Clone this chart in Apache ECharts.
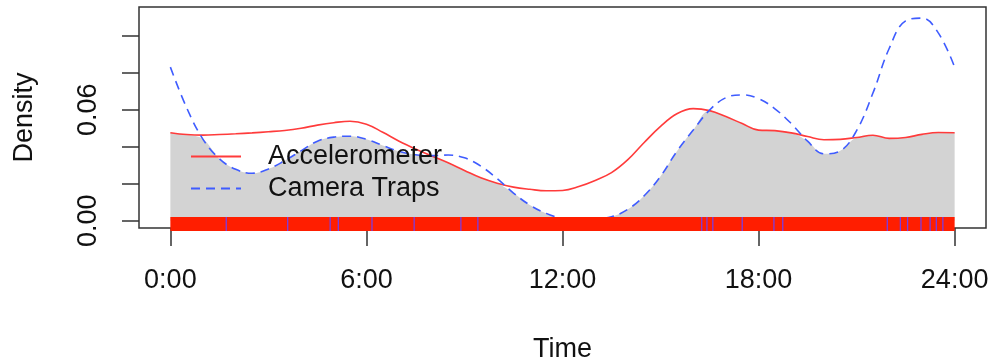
<!DOCTYPE html>
<html>
<head>
<meta charset="utf-8">
<script src="https://cdn.jsdelivr.net/npm/echarts@6/dist/echarts.min.js"></script>
<style>
  html, body { margin: 0; padding: 0; background: #ffffff; }
  #chart { width: 993px; height: 364px; }
</style>
</head>
<body>
<div id="chart"></div>
<script>
// Time of day (hours) at which both activity densities are given
const hours = [
  0, 0.5, 1, 1.5, 2, 2.5, 3, 3.5, 4, 4.5, 5, 5.5, 6, 6.5, 7, 7.5,
  8, 8.5, 9, 9.5, 10, 10.5, 11, 11.5, 12, 12.5, 13, 13.5, 14, 14.5, 15, 15.5,
  16, 16.5, 17, 17.5, 18, 18.5, 19, 19.5, 20, 20.5, 21, 21.5, 22, 22.5, 23, 23.5, 24
];

// Kernel density of activity, accelerometer records
const accelerometer = [
  0.0476, 0.0466, 0.0463, 0.0466, 0.0470, 0.0475, 0.0481, 0.0488, 0.0500, 0.0517,
  0.0530, 0.0538, 0.0522, 0.0478, 0.0430, 0.0388, 0.0350, 0.0313, 0.0272, 0.0232,
  0.0203, 0.0182, 0.0170, 0.0162, 0.0164, 0.0185, 0.0218, 0.0260, 0.0330, 0.0423,
  0.0510, 0.0578, 0.0606, 0.0595, 0.0563, 0.0525, 0.0490, 0.0487, 0.0475, 0.0455,
  0.0438, 0.0440, 0.0450, 0.0462, 0.0445, 0.0450, 0.0467, 0.0477, 0.0476
];

// Kernel density of activity, camera trap records
const cameraTraps = [
  0.0830, 0.0610, 0.0440, 0.0335, 0.0278, 0.0257, 0.0280, 0.0325, 0.0378, 0.0430,
  0.0452, 0.0457, 0.0440, 0.0407, 0.0375, 0.0357, 0.0352, 0.0355, 0.0340, 0.0295,
  0.0228, 0.0150, 0.0085, 0.0040, 0.0012, 0.0004, 0.0010, 0.0022, 0.0062, 0.0135,
  0.0240, 0.0375, 0.0490, 0.0598, 0.0665, 0.0680, 0.0660, 0.0605, 0.0525, 0.0430,
  0.0362, 0.0378, 0.0487, 0.0690, 0.0932, 0.1080, 0.1095, 0.1015, 0.0830
];

// Individual camera trap detections (hours), drawn as a rug
const cameraTimes = [
  1.71, 3.59, 4.89, 5.14, 6.17, 7.46, 8.89, 9.41,
  16.26, 16.42, 16.60, 17.50, 18.47, 18.74,
  21.94, 22.34, 22.56, 22.97, 23.25, 23.44, 23.64
];

// Accelerometer records cover the whole day densely
const accelSpan = [0, 24];

const xTicks = [0, 6, 12, 18, 24];
const xTickLabels = ['0:00', '6:00', '12:00', '18:00', '24:00'];
const yTicks = [0, 0.02, 0.04, 0.06, 0.08, 0.10];
const yLabelled = [0, 0.06];

const FONT = 'Liberation Sans, Arial, Helvetica, sans-serif';
const RED = '#ff3b3b';
const BLUE = '#3f5cff';

const accelData = hours.map((h, i) => [h, accelerometer[i]]);
const cameraData = hours.map((h, i) => [h, cameraTraps[i]]);
const overlapData = hours.map((h, i) => [h, Math.min(accelerometer[i], cameraTraps[i])]);

const chart = echarts.init(document.getElementById('chart'), null, { renderer: 'canvas' });

chart.setOption({
  animation: false,
  backgroundColor: '#ffffff',
  textStyle: { fontFamily: FONT },
  grid: {
    left: 139, top: 7, width: 847, height: 221,
    containLabel: false, outerBoundsMode: 'none',
    show: true, borderColor: '#333333', borderWidth: 1.5, backgroundColor: 'transparent'
  },
  legend: {
    orient: 'vertical',
    left: 190, top: 143, padding: 0,
    itemWidth: 50, itemHeight: 14, itemGap: 5,
    data: ['Accelerometer', 'Camera Traps'],
    itemStyle: { opacity: 0 },
    textStyle: { fontFamily: FONT, fontSize: 27, color: '#111111', padding: [0, 0, 0, 22] },
    selectedMode: false
  },
  xAxis: {
    type: 'value',
    min: -0.96, max: 24.96,
    splitLine: { show: false },
    axisLine: { show: false, onZero: false },
    axisTick: {
      show: true, inside: false, length: 18, customValues: xTicks,
      lineStyle: { color: '#333333', width: 1.5 }
    },
    axisLabel: {
      show: true, customValues: xTicks, margin: 39,
      fontFamily: FONT, fontSize: 27, color: '#111111',
      formatter: v => xTickLabels[xTicks.indexOf(v)]
    },
    name: 'Time', nameLocation: 'middle', nameGap: 108,
    nameTextStyle: { fontFamily: FONT, fontSize: 27, color: '#111111' }
  },
  yAxis: {
    type: 'value',
    min: -0.0039, max: 0.1155,
    splitLine: { show: false },
    axisLine: { show: false, onZero: false },
    axisTick: {
      show: true, inside: false, length: 17, customValues: yTicks,
      lineStyle: { color: '#333333', width: 1.5 }
    },
    axisLabel: {
      show: true, customValues: yLabelled, rotate: 90, margin: 37,
      fontFamily: FONT, fontSize: 27, color: '#111111',
      formatter: v => v.toFixed(2)
    },
    name: 'Density', nameLocation: 'middle', nameGap: 101, nameRotate: 90,
    nameTextStyle: { fontFamily: FONT, fontSize: 27, color: '#111111' }
  },
  series: [
    {
      name: 'overlap', type: 'line', data: overlapData, smooth: 0.4,
      showSymbol: false, symbol: 'none', silent: true,
      lineStyle: { width: 0, opacity: 0 },
      areaStyle: { color: '#d3d3d3', opacity: 1, origin: 0 },
      z: 1
    },
    {
      name: 'Accelerometer', type: 'line', data: accelData, smooth: 0.4,
      showSymbol: false, symbol: 'none',
      lineStyle: { color: RED, width: 1.6 },
      itemStyle: { color: RED },
      z: 3
    },
    {
      name: 'Camera Traps', type: 'line', data: cameraData, smooth: 0.4,
      showSymbol: false, symbol: 'none',
      lineStyle: { color: BLUE, width: 1.6, type: [9, 6] },
      itemStyle: { color: BLUE },
      z: 3
    },
    {
      name: 'accelerometer rug', type: 'custom', clip: false, silent: true, z: 5,
      data: [accelSpan],
      renderItem: (params, api) => {
        const a = api.coord([api.value(0), 0]);
        const b = api.coord([api.value(1), 0]);
        return {
          type: 'rect',
          shape: { x: a[0], y: a[1] - 3.7, width: b[0] - a[0], height: 14 },
          style: { fill: '#ff1e00' }
        };
      }
    },
    {
      name: 'camera rug', type: 'custom', clip: false, silent: true, z: 6,
      data: cameraTimes.map(t => [t]),
      renderItem: (params, api) => {
        const p = api.coord([api.value(0), 0]);
        return {
          type: 'line',
          shape: { x1: p[0], y1: p[1] - 3.7, x2: p[0], y2: p[1] + 10.3 },
          style: { stroke: '#7a3de0', lineWidth: 1.3 }
        };
      }
    }
  ]
});
</script>
</body>
</html>
